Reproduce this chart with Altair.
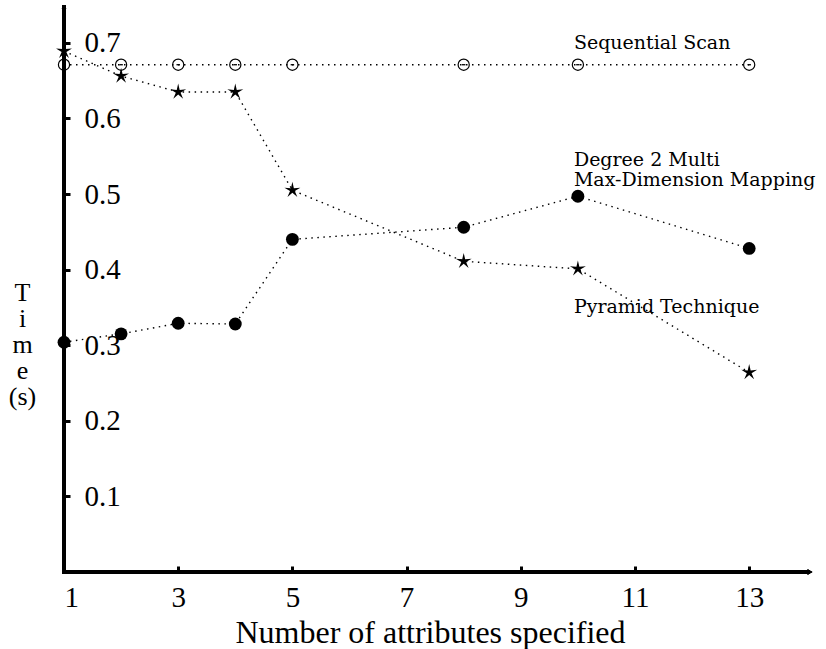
import altair as alt
import pandas as pd

# ---- data ----
attrs = [1, 2, 3, 4, 5, 8, 10, 13]
seq_scan = [0.671, 0.671, 0.671, 0.671, 0.671, 0.671, 0.671, 0.671]
pyramid = [0.689, 0.656, 0.635, 0.635, 0.505, 0.411, 0.401, 0.264]
degree2 = [0.304, 0.315, 0.329, 0.328, 0.440, 0.456, 0.497, 0.428]

x_ticks = [1, 3, 5, 7, 9, 11, 13]
y_ticks = [0.1, 0.2, 0.3, 0.4, 0.5, 0.6, 0.7]

label_text = ["Sequential Scan", "Degree 2 Multi", "Max-Dimension Mapping", "Pyramid Technique"]
label_x = [9.93, 9.93, 9.93, 9.93]
label_y = [0.700, 0.545, 0.519, 0.350]

FONT = "Liberation Serif"
LFONT = "DejaVu Serif"
STAR = ("M0,-1 L0.176,-0.243 L0.951,-0.309 L0.285,0.093 L0.588,0.809 L0,0.3 "
        "L-0.588,0.809 L-0.285,0.093 L-0.951,-0.309 L-0.176,-0.243 Z")

rows = []
for name, vals in [("Sequential Scan", seq_scan), ("Pyramid Technique", pyramid), ("Degree 2", degree2)]:
    for a, v in zip(attrs, vals):
        rows.append({"attrs": a, "time": v, "series": name})
df = pd.DataFrame(rows)
labels_df = pd.DataFrame({"text": label_text, "x": label_x, "y": label_y})

xscale = alt.Scale(domain=[1, 14.1], nice=False, zero=False)
yscale = alt.Scale(domain=[0, 0.75], nice=False)

x_axis = alt.Axis(values=x_ticks, format="d", title="Number of attributes specified", grid=False, domain=False,
                  tickSize=6, tickWidth=3, tickColor="black", offset=-6,
                  labelFont=FONT, labelFontSize=29, labelColor="black", labelBaseline="middle",
                  labelPadding=25, labelFontWeight="normal",
                  titleFont=FONT, titleFontSize=32, titleFontWeight="normal", titleColor="black",
                  titleAlign="center", titleBaseline="alphabetic", titleX=366, titleY=76)
y_axis = alt.Axis(values=y_ticks, format=".1f", title=["T", "i", "m", "e", "(s)"], grid=False, domain=False,
                  tickSize=6, tickWidth=3, tickColor="black", offset=-6,
                  labelFont=FONT, labelFontSize=29, labelColor="black", labelAlign="left",
                  labelBaseline="middle", labelPadding=-20,
                  titleFont=FONT, titleFontSize=26, titleFontWeight="normal", titleColor="black",
                  titleAngle=0, titleAlign="center", titleBaseline="top", titleLineHeight=26,
                  titleX=-48, titleY=274)

base = alt.Chart(df).encode(
    x=alt.X("attrs:Q", scale=xscale, axis=x_axis),
    y=alt.Y("time:Q", scale=yscale, axis=y_axis),
)

lines = base.mark_line(color="black", strokeWidth=1.4, strokeDash=[1.5, 4.5]).encode(detail="series:N")

seq_pts = base.transform_filter(alt.datum.series == "Sequential Scan").mark_point(
    shape="circle", filled=False, size=125, color="black", strokeWidth=1.2, opacity=1)
seq_inner = base.transform_filter(alt.datum.series == "Sequential Scan").mark_point(
    shape="stroke", size=12, color="black", strokeWidth=1.3, opacity=1)
stars = base.transform_filter(alt.datum.series == "Pyramid Technique").mark_point(
    shape=STAR, filled=True, size=280, color="black", opacity=1)
dots = base.transform_filter(alt.datum.series == "Degree 2").mark_point(
    shape="circle", filled=True, size=165, color="black", opacity=1)

texts = alt.Chart(labels_df).mark_text(align="left", baseline="middle", font=LFONT, fontSize=19,
                                        color="black").encode(
    x=alt.X("x:Q", scale=xscale), y=alt.Y("y:Q", scale=yscale), text="text:N")

# axis lines and arrowheads
yline = alt.Chart(labels_df).mark_rule(color="black", strokeWidth=4).encode(
    x=alt.value(0), y=alt.value(0), y2=alt.value(569))
xline = alt.Chart(labels_df).mark_rule(color="black", strokeWidth=4).encode(
    x=alt.value(-2), x2=alt.value(746), y=alt.value(567))
xarrow = alt.Chart(labels_df).mark_point(shape="triangle-right", filled=True, size=30, color="black",
                                         opacity=1).encode(x=alt.value(746), y=alt.value(567))
yarrow = alt.Chart(labels_df).mark_point(shape="triangle-up", filled=True, size=20, color="black",
                                         opacity=1).encode(x=alt.value(0), y=alt.value(2))

chart = alt.layer(lines, seq_pts, seq_inner, stars, dots, texts, yline, xline, xarrow, yarrow).properties(
    width=748, height=567,
    padding={"left": 64, "top": 5, "right": 14, "bottom": 77},
    autosize=alt.AutoSizeParams(type="none"),
    background="white",
).configure_view(stroke=None)

chart.save("out.html", embed_options={"renderer": "svg", "actions": False})
